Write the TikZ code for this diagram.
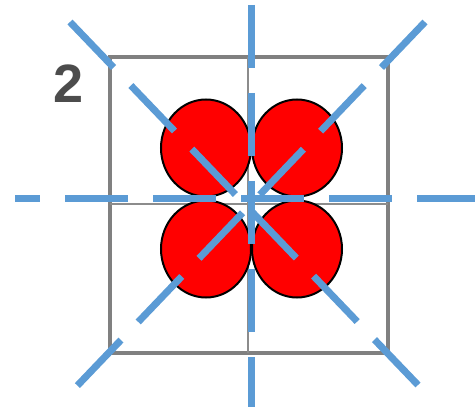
\documentclass[tikz,border=0pt]{standalone}
\usepackage{fontspec}
\newfontfamily\labelfont{Liberation Sans}
\usetikzlibrary{shapes.geometric}
\definecolor{cutblue}{RGB}{91,155,213}
\definecolor{petalred}{RGB}{255,0,0}

\begin{document}
\begin{tikzpicture}[
        x=1pt, y=-1pt,
        frame/.style={draw=black!50, line width=3.5pt},
        gridline/.style={draw=black!45, line width=2.5pt},
        petal/.style={ellipse, draw=black, line width=2pt, fill=petalred, minimum width=90pt, minimum height=97pt, inner sep=0pt},
        cut/.style={draw=cutblue, line width=7pt, dash pattern=on 63pt off 25pt}
    ]
    \useasboundingbox (0,0) rectangle (475,412);

    % --- Grid ---
    \draw[frame] (110,57) rectangle (388,353);
    \draw[gridline] (248,57) -- (248,353);
    \draw[gridline] (110,204) -- (388,204);
    \node[anchor=base, inner sep=0pt, text=black!70, font=\labelfont\bfseries\fontsize{54}{54}\selectfont] (number) at (69,103) {2};

    % --- Circles ---
    \node[petal] (topleft) at (206,148) {};
    \node[petal] (topright) at (297,148) {};
    \node[petal] (bottomleft) at (206,249) {};
    \node[petal] (bottomright) at (297,249) {};

    % --- Cut lines ---
    \coordinate (top) at (251,5);
    \coordinate (bottom) at (251,407);
    \coordinate (left) at (15,199);
    \coordinate (right) at (475,199);
    \coordinate (nw) at (70,22);
    \coordinate (se) at (418,385);
    \coordinate (ne) at (425,22);
    \coordinate (sw) at (77,386);

    \draw[cut] (top) -- (bottom);
    \draw[cut, dash phase=38pt] (left) -- (right);
    \draw[cut] (nw) -- (se);
    \draw[cut] (ne) -- (sw);
\end{tikzpicture}
\end{document}
